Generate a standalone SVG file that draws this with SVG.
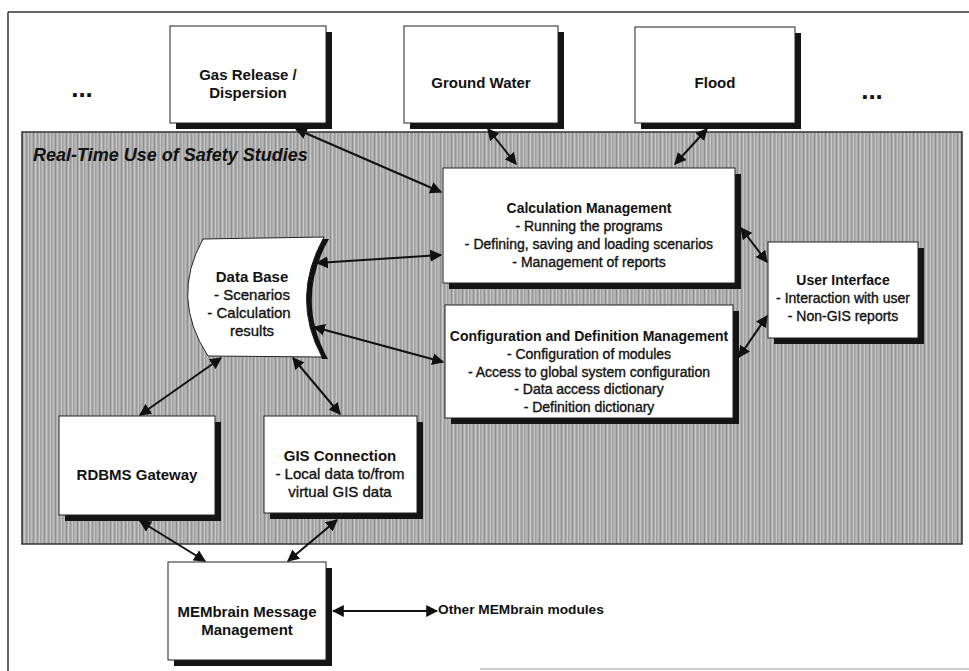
<svg xmlns="http://www.w3.org/2000/svg" width="969" height="671" viewBox="0 0 969 671">
<style>
text{font-family:"Liberation Sans",Arial,sans-serif;fill:#111;text-anchor:middle}
.t{font-weight:bold;font-size:14px}
.t15{font-weight:bold;font-size:15px}
.b{font-size:14px;stroke:#111;stroke-width:0.35}
.b15{font-size:15px;stroke:#111;stroke-width:0.35}
.box{fill:#fff;stroke:#222;stroke-width:1}
.sh{fill:#141414}
.c{stroke:#111;stroke-width:2;fill:none;marker-start:url(#ah);marker-end:url(#ah)}
.dots{font-weight:bold;font-size:26px}
</style>
<defs>
<marker id="ah" viewBox="0 0 10 10" refX="9" refY="5" markerWidth="6" markerHeight="6" orient="auto-start-reverse" markerUnits="strokeWidth">
<path d="M0,0 L10,5 L0,10 Z" fill="#111"/>
</marker>
<pattern id="tex" width="11" height="4" patternUnits="userSpaceOnUse">
<rect width="11" height="4" fill="#adadad"/>
<rect x="0" width="1" height="4" fill="#909090"/>
<rect x="2" width="1" height="4" fill="#c8c8c8"/>
<rect x="4" width="1" height="4" fill="#9a9a9a"/>
<rect x="6" width="1" height="4" fill="#c4c4c4"/>
<rect x="7" width="1" height="4" fill="#a0a0a0"/>
<rect x="9" width="1" height="4" fill="#bababa"/>
</pattern>
</defs>
<rect width="969" height="671" fill="#fff"/>
<g id="frame">
<line x1="8" y1="12" x2="969" y2="12" stroke="#333" stroke-width="1.5"/>
<line x1="8" y1="12" x2="8" y2="671" stroke="#333" stroke-width="1.5"/>
<line x1="480" y1="669" x2="969" y2="669" stroke="#999" stroke-width="1"/>
</g>
<g id="panel">
<rect x="22" y="132" width="940" height="412" fill="url(#tex)" stroke="#333" stroke-width="1.5"/>
<text x="33" y="161" style="font-weight:bold;font-style:italic;font-size:18px;text-anchor:start">Real-Time Use of Safety Studies</text>
</g>
<g id="dots-left"><text x="82" y="97" class="dots">...</text></g>
<g id="dots-right"><text x="872" y="99" class="dots">...</text></g>
<g id="gas">
<rect class="sh" x="176" y="32" width="156" height="97"/>
<rect class="box" x="170" y="26" width="156" height="97"/>
<text class="t15" x="248" y="80">Gas Release /</text>
<text class="t15" x="248" y="98">Dispersion</text>
</g>
<g id="ground">
<rect class="sh" x="410" y="32" width="154" height="97"/>
<rect class="box" x="404" y="26" width="154" height="97"/>
<text class="t15" x="481" y="88">Ground Water</text>
</g>
<g id="flood">
<rect class="sh" x="641" y="33" width="160" height="96"/>
<rect class="box" x="635" y="27" width="160" height="96"/>
<text class="t15" x="715" y="88">Flood</text>
</g>
<g id="calc">
<rect class="sh" x="449" y="174" width="292" height="115"/>
<rect class="box" x="443" y="168" width="292" height="115"/>
<text class="t" x="589" y="213">Calculation Management</text>
<text class="b" x="589" y="231">- Running the programs</text>
<text class="b" x="589" y="249">- Defining, saving and loading scenarios</text>
<text class="b" x="589" y="267">- Management of reports</text>
</g>
<g id="config">
<rect class="sh" x="451" y="311" width="288" height="113"/>
<rect class="box" x="445" y="305" width="288" height="113"/>
<text class="t" x="589" y="341">Configuration and Definition Management</text>
<text class="b" x="589" y="359">- Configuration of modules</text>
<text class="b" x="589" y="377">- Access to global system configuration</text>
<text class="b" x="589" y="394">- Data access dictionary</text>
<text class="b" x="589" y="412">- Definition dictionary</text>
</g>
<g id="ui">
<rect class="sh" x="774" y="248" width="150" height="96"/>
<rect class="box" x="768" y="242" width="150" height="96"/>
<text class="t" x="843" y="285">User Interface</text>
<text class="b" x="843" y="303">- Interaction with user</text>
<text class="b" x="843" y="321">- Non-GIS reports</text>
</g>
<g id="database">
<path d="M329,239 Q295,299 328,359 L322,359 Q288,299 322,239 Z" fill="#111"/>
<path d="M203,239 L324,237 Q290,298 322,357 L208,356 Q170,298 203,239 Z" fill="#fff" stroke="#222" stroke-width="1"/>
<text class="t15" x="252" y="282">Data Base</text>
<text class="b15" x="252" y="300">- Scenarios</text>
<text class="b15" x="249" y="318">- Calculation</text>
<text class="b15" x="252" y="336">results</text>
</g>
<g id="rdbms">
<rect class="sh" x="65" y="422" width="156" height="99"/>
<rect class="box" x="59" y="416" width="156" height="99"/>
<text class="t15" x="137" y="480">RDBMS Gateway</text>
</g>
<g id="gis">
<rect class="sh" x="270" y="422" width="153" height="97"/>
<rect class="box" x="264" y="416" width="153" height="97"/>
<text class="t15" x="340" y="461">GIS Connection</text>
<text class="b15" x="340" y="479">- Local data to/from</text>
<text class="b15" x="340" y="497">virtual GIS data</text>
</g>
<g id="membrain">
<rect class="sh" x="174" y="568" width="158" height="98"/>
<rect class="box" x="168" y="562" width="158" height="98"/>
<text class="t15" x="247" y="617">MEMbrain Message</text>
<text class="t15" x="247" y="635">Management</text>
</g>
<g id="other"><text x="438" y="614" style="font-weight:bold;font-size:13.7px;text-anchor:start">Other MEMbrain modules</text></g>
<g id="connectors">
<line class="c" x1="296" y1="129" x2="441" y2="192"/>
<line class="c" x1="488" y1="129" x2="516" y2="164"/>
<line class="c" x1="707" y1="129" x2="675" y2="164"/>
<line class="c" x1="317" y1="263" x2="441" y2="255"/>
<line class="c" x1="314" y1="327" x2="443" y2="362"/>
<line class="c" x1="741" y1="228" x2="767" y2="262"/>
<line class="c" x1="739" y1="357" x2="767" y2="316"/>
<line class="c" x1="221" y1="358" x2="140" y2="415"/>
<line class="c" x1="293" y1="358" x2="340" y2="414"/>
<line class="c" x1="140" y1="521" x2="205" y2="561"/>
<line class="c" x1="337" y1="520" x2="288" y2="561"/>
<line class="c" x1="333" y1="611" x2="437" y2="611"/>
</g>
</svg>
